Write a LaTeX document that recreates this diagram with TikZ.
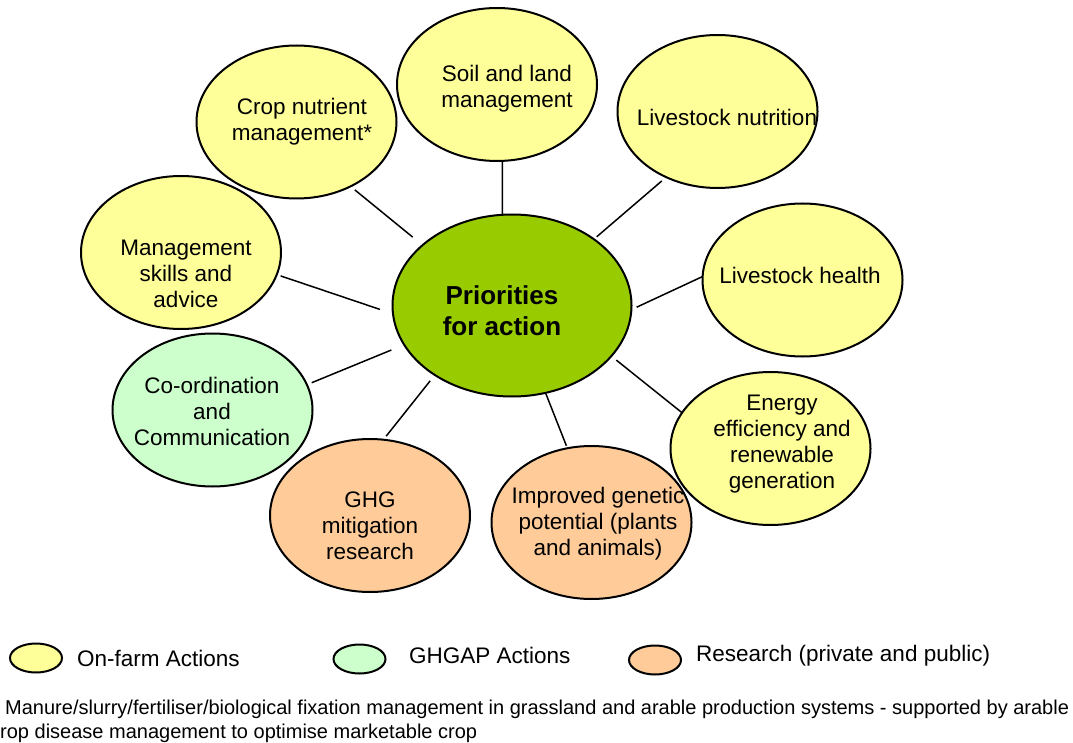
\documentclass[tikz,border=0pt]{standalone}
\usepackage{fontspec}
\setmainfont{Liberation Sans}
\usepackage{tikz}
\usetikzlibrary{shapes}

\definecolor{farmyellow}{HTML}{FFFF99}
\definecolor{ghgapgreen}{HTML}{CCFFCC}
\definecolor{researchorange}{HTML}{FFCC99}
\definecolor{prioritygreen}{HTML}{99CC00}

\begin{document}
\begin{tikzpicture}[x=1pt, y=-1pt,
		bubble/.style={ellipse, draw, line width=2pt, minimum width=200pt, minimum height=153pt, inner sep=0pt, outer sep=0pt},
		farm/.style={bubble, fill=farmyellow},
		ghgap/.style={bubble, fill=ghgapgreen},
		research/.style={bubble, fill=researchorange},
		txt/.style={align=center, inner sep=0pt, font=\fontsize{22.5}{26}\selectfont},
		block/.style={txt, yshift=-2.5pt},
		link/.style={line width=1.5pt},
		key/.style={ellipse, draw, line width=2pt, minimum width=52pt, minimum height=29pt, inner sep=0pt}]
			\useasboundingbox (0,0) rectangle (1073,743);
			\node[bubble, fill=prioritygreen, minimum width=239pt, minimum height=182pt] (prio) at (512,305.5) {};
			\node[block, font=\fontsize{26}{31}\selectfont\bfseries] (priotext) at (502,308) {Priorities\\for action};
			\node[farm] (crop) at (296.5,122) {};
			\node[block] (croptext) at (302,119) {Crop nutrient\\management*};
			\node[farm] (soil) at (497,84.5) {};
			\node[block] (soiltext) at (507,86) {Soil and land\\management};
			\node[farm] (lnut) at (717.5,111.5) {};
			\node[txt] (lnuttext) at (727,117) {Livestock nutrition};
			\node[farm] (lhealth) at (802.5,280) {};
			\node[txt] (lhealthtext) at (800,275) {Livestock health};
			\node[farm] (mgmt) at (181,252.5) {};
			\node[block] (mgmttext) at (186,271) {Management\\skills and\\advice};
			\node[ghgap] (coord) at (212.5,410) {};
			\node[block] (coordtext) at (212,408.5) {Co-ordination\\and\\Communication};
			\node[research] (ghg) at (370,515.5) {};
			\node[block] (ghgtext) at (370,523) {GHG\\mitigation\\research};
			\node[research] (genetic) at (591.5,522.5) {};
			\node[block] (genetictext) at (598,521) {Improved genetic\\potential (plants\\and animals)};
			\node[farm] (energy) at (770.5,448.5) {};
			\node[block] (energytext) at (782,442) {Energy\\efficiency and\\renewable\\generation};
			\draw[link, shorten <=12.75pt, shorten >=5.6pt] (prio.146.6) -- (crop.-50.8);
			\draw[link] (prio.96.3) -- (soil.-86.3);
			\draw[link, shorten <=3.75pt, shorten >=5.85pt] (prio.39.7) -- (lnut.-128.2);
			\draw[link, shorten <=5.85pt] (prio.-2.9) -- (lhealth.178.3);
			\draw[link, shorten <=6.4pt] (prio.-27.2) -- (energy.158.6);
			\draw[link, shorten <=1.1pt, shorten >=2.7pt] (prio.-69.8) -- (genetic.108.3);
			\draw[link, shorten <=7.5pt, shorten >=4.5pt] (prio.-138.1) -- (ghg.80.3);
			\draw[link, shorten <=13.9pt, shorten >=5.25pt] (prio.-160.6) -- (coord.15);
			\draw[link, shorten <=13.8pt, shorten >=4.1pt] (prio.-176) -- (mgmt.-13);
			\node[key, fill=farmyellow] (keyfarm) at (36,658) {};
			\node[txt, anchor=west] (keyfarmtext) at (77,658) {On-farm Actions};
			\node[key, fill=ghgapgreen] (keyghgap) at (359.5,659) {};
			\node[txt, anchor=west] (keyghgaptext) at (409,655) {GHGAP Actions};
			\node[key, fill=researchorange] (keyresearch) at (655,660) {};
			\node[txt, anchor=west] (keyresearchtext) at (696,656) {Research (private and public)};
			\node[txt, anchor=west, font=\fontsize{20}{23}\selectfont] (note) at (5,709) {Manure/slurry/fertiliser/biological fixation management in grassland and arable production systems - supported by arable};
			\node[txt, anchor=west, font=\fontsize{20}{23}\selectfont] (notecont) at (0,733) {rop disease management to optimise marketable crop};
		\end{tikzpicture}
\end{document}
